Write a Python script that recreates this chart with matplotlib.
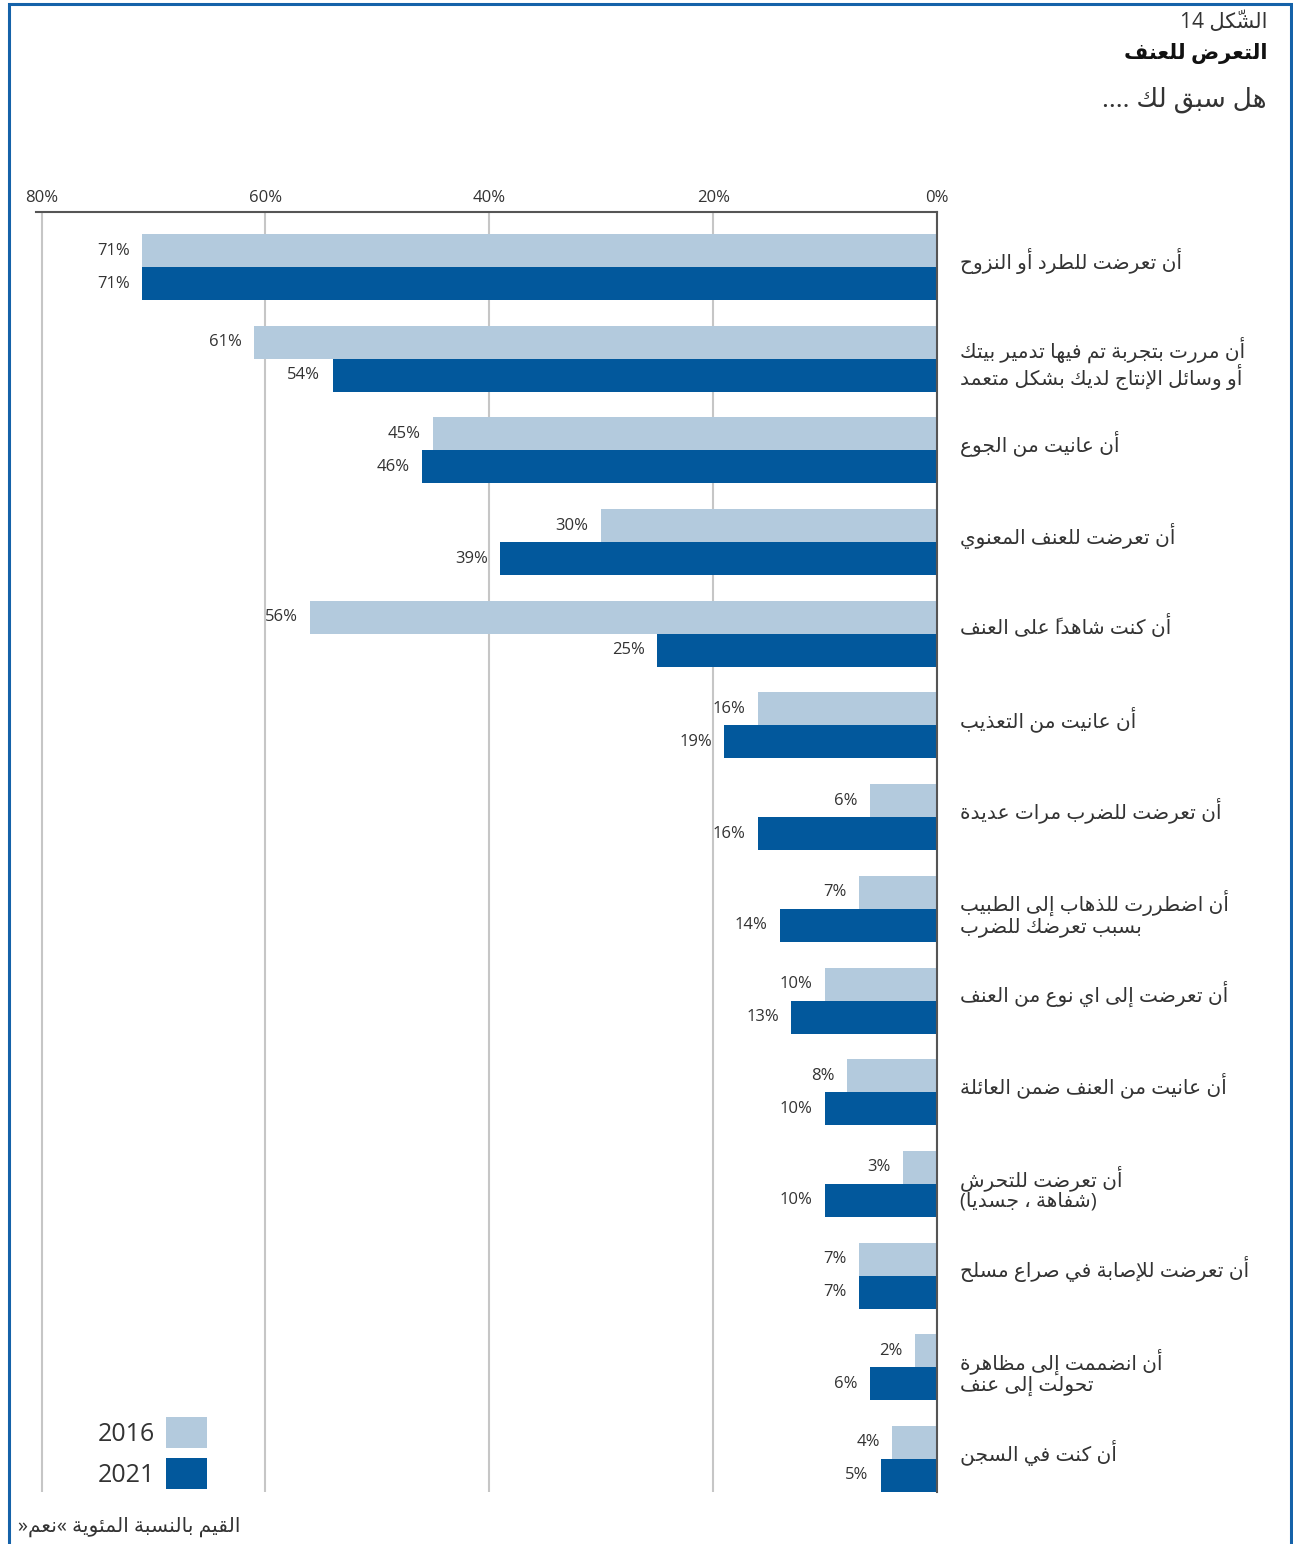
import matplotlib
matplotlib.use("Agg")
import matplotlib.pyplot as plt
import matplotlib.transforms as mtransforms
from matplotlib.patches import Rectangle
import numpy as np

# ---- data ----
categories = [
    "أن تعرضت للطرد أو النزوح",
    "أن مررت بتجربة تم فيها تدمير بيتك\nأو وسائل الإنتاج لديك بشكل متعمد",
    "أن عانيت من الجوع",
    "أن تعرضت للعنف المعنوي",
    "أن كنت شاهداً على العنف",
    "أن عانيت من التعذيب",
    "أن تعرضت للضرب مرات عديدة",
    "أن اضطررت للذهاب إلى الطبيب\nبسبب تعرضك للضرب",
    "أن تعرضت إلى اي نوع من العنف",
    "أن عانيت من العنف ضمن العائلة",
    "أن تعرضت للتحرش\n(شفاهة ، جسديا)",
    "أن تعرضت للإصابة في صراع مسلح",
    "أن انضممت إلى مظاهرة\nتحولت إلى عنف",
    "أن كنت في السجن",
]
values_2016 = [71, 61, 45, 30, 56, 16, 6, 7, 10, 8, 3, 7, 2, 4]
values_2021 = [71, 54, 46, 39, 25, 19, 16, 14, 13, 10, 10, 7, 6, 5]
series_names = ["2016", "2021"]
x_ticks = [80, 60, 40, 20, 0]

fig_number = "الشّكل 14"
fig_title = "التعرض للعنف"
fig_question = "هل سبق لك ...."
footnote = "القيم بالنسبة المئوية »نعم«"

LIGHT = "#b3cadd"
DARK = "#02589c"
TEXT = "#333333"
BORDER = "#1562a9"

# ---- minimal arabic shaping (presentation forms) + right-to-left ordering ----
DUAL = dict(zip("ئبتثجحخسشصضطظعغفقكلمنهي",
                [0xFE89, 0xFE8F, 0xFE95, 0xFE99, 0xFE9D, 0xFEA1, 0xFEA5, 0xFEB1,
                 0xFEB5, 0xFEB9, 0xFEBD, 0xFEC1, 0xFEC5, 0xFEC9, 0xFECD, 0xFED1,
                 0xFED5, 0xFED9, 0xFEDD, 0xFEE1, 0xFEE5, 0xFEE9, 0xFEF1]))
RIGHT = dict(zip("آأؤإاةدذرزوى",
                 [0xFE81, 0xFE83, 0xFE85, 0xFE87, 0xFE8D, 0xFE93, 0xFEA9, 0xFEAB,
                  0xFEAD, 0xFEAF, 0xFEED, 0xFEEF]))
LAM_ALEF = {"آ": 0xFEF5, "أ": 0xFEF7, "إ": 0xFEF9, "ا": 0xFEFB}
MIRROR = {"(": ")", ")": "(", "«": "»", "»": "«"}


def join_type(ch):
    if ch in DUAL:
        return "D"
    if ch in RIGHT or (len(ch) == 2 and ch[0] == "ل"):
        return "R"
    return "U"


def shape_line(line):
    units = []
    for ch in line:
        if "\u064b" <= ch <= "\u0652" and units:
            units[-1][1] += ch
        else:
            units.append([ch, ""])
    merged = []
    i = 0
    while i < len(units):
        ch, marks = units[i]
        if ch == "ل" and i + 1 < len(units) and units[i + 1][0] in LAM_ALEF:
            merged.append(["ل" + units[i + 1][0], marks + units[i + 1][1]])
            i += 2
        else:
            merged.append([ch, marks])
            i += 1

    glyphs = []
    for k, (ch, marks) in enumerate(merged):
        t = join_type(ch)
        prev_j = k > 0 and join_type(merged[k - 1][0]) == "D"
        next_j = k + 1 < len(merged) and join_type(merged[k + 1][0]) in "DR"
        if t == "D":
            form = 3 if prev_j and next_j else 1 if prev_j else 2 if next_j else 0
            g = chr(DUAL[ch] + form)
        elif t == "R":
            base = RIGHT[ch] if ch in RIGHT else LAM_ALEF[ch[1]]
            g = chr(base + (1 if prev_j else 0))
        else:
            g = MIRROR.get(ch, ch)
        # marks go first so they are drawn over their own letter
        glyphs.append(marks + g)

    segs = []
    for g in glyphs:
        if g.isascii() and g.isalnum() and segs and segs[-1].isascii() and segs[-1].isalnum():
            segs[-1] += g
        else:
            segs.append(g)
    return "".join(reversed(segs))


def ar(text):
    return "\n".join(shape_line(s) for s in text.split("\n"))


# ---- figure ----
plt.rcParams["font.family"] = ["Open Sans", "DejaVu Sans"]

W, H = 1293, 1544
fig = plt.figure(figsize=(W / 100, H / 100), dpi=100)
ax = fig.add_axes([36 / W, 1 - 1492 / H, (937 - 36) / W, (1492 - 212) / H])

n = len(categories)
y = np.arange(n)
h = 0.36
bars16 = ax.barh(y - h / 2, values_2016, height=h, color=LIGHT, label=series_names[0])
bars21 = ax.barh(y + h / 2, values_2021, height=h, color=DARK, label=series_names[1])

for bars, vals in ((bars16, values_2016), (bars21, values_2021)):
    for rect, v in zip(bars, vals):
        ax.annotate(f"{v}%", xy=(v, rect.get_y() + rect.get_height() / 2),
                    xytext=(-9, 0), textcoords="offset points",
                    ha="right", va="center", fontsize=12, color=TEXT)

ax.set_xlim(80.5, 0)
ax.set_ylim(n - 1 + h, -0.6)
ax.xaxis.tick_top()
ax.set_xticks(x_ticks)
ax.set_xticklabels([f"{t}%" for t in x_ticks])
ax.tick_params(axis="x", length=0, pad=4, labelsize=12, labelcolor=TEXT)
ax.set_yticks([])
ax.grid(axis="x", color="#c6c6c6", lw=1.5)
ax.set_axisbelow(True)
for side in ("left", "bottom"):
    ax.spines[side].set_visible(False)
for side in ("top", "right"):
    ax.spines[side].set_color("#555555")
    ax.spines[side].set_linewidth(1.5)

# category labels to the right of the zero line
lab_tr = mtransforms.blended_transform_factory(fig.transFigure, ax.transData)
for i, cat in enumerate(categories):
    shift = 0.05 if "\n" in cat else -0.07
    ax.text(960 / W, i + shift, ar(cat), transform=lab_tr, ha="left", va="center",
            multialignment="left", fontsize=14.5, color=TEXT, linespacing=1.05)

leg = ax.legend(handles=[bars16, bars21], loc="lower right",
                bbox_to_anchor=(207 / W, 1 - 1489 / H), bbox_transform=fig.transFigure,
                frameon=False, markerfirst=False, fontsize=18, borderpad=0,
                borderaxespad=0, handlelength=1.64, handleheight=1.53,
                handletextpad=0.45, labelspacing=0.4)
for t in leg.get_texts():
    t.set_color(TEXT)

# header and footer
fig.text(1267 / W, 1 - 22 / H, ar(fig_number), ha="right", va="center", fontsize=15, color=TEXT)
fig.text(1267 / W, 1 - 53 / H, ar(fig_title), ha="right", va="center", fontsize=15,
         fontweight="bold", color="#111111")
fig.text(1267 / W, 1 - 100 / H, ar(fig_question), ha="right", va="center", fontsize=19, color=TEXT)
fig.text(18 / W, 1 - 1527 / H, ar(footnote), ha="left", va="center", fontsize=14.5, color=TEXT)

# blue frame
fig.patches.append(Rectangle((8.5 / W, -0.05), (1291 - 8.5) / W, 1.05 - 3.5 / H,
                             transform=fig.transFigure, fill=False,
                             edgecolor=BORDER, lw=2.2))

fig.savefig("out.png", dpi=100)
